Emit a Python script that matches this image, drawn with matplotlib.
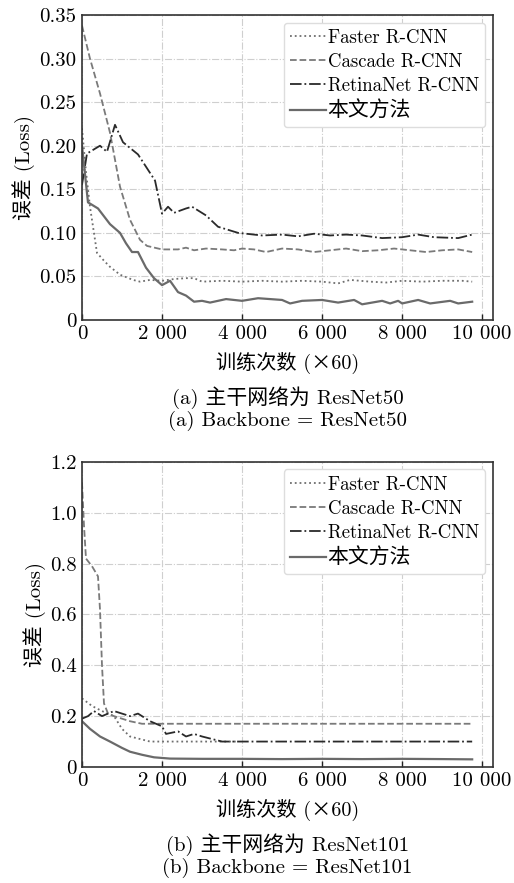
"""Loss curves of four detectors for two backbones (ResNet50 / ResNet101)."""

import matplotlib
matplotlib.use("Agg")
import matplotlib.pyplot as plt
from matplotlib.ticker import FixedLocator, FixedFormatter

plt.rcParams["font.family"] = ["cmr10", "Noto Sans CJK SC"]
plt.rcParams["mathtext.fontset"] = "cm"
plt.rcParams["axes.unicode_minus"] = False

SERIES = ["Faster R-CNN", "Cascade R-CNN", "RetinaNet R-CNN", "本文方法"]

# ---- (a) ResNet50 ----
a_faster_x = [0, 100, 200, 375, 550, 700, 950, 1275, 1450, 1700, 2000, 2300, 2600, 2800, 3000,
              3500, 4000, 4500, 5000, 5500, 6000, 6400, 6700, 7200, 7600, 8000, 8500, 9000, 9500, 9750]
a_faster_y = [0.22, 0.17, 0.13, 0.077, 0.068, 0.061, 0.052, 0.046, 0.044, 0.046, 0.045, 0.047, 0.048, 0.048, 0.044,
              0.045, 0.044, 0.045, 0.044, 0.045, 0.044, 0.042, 0.046, 0.044, 0.043, 0.045, 0.044, 0.045, 0.045, 0.044]

a_cascade_x = [0, 200, 450, 700, 950, 1200, 1450, 1625, 2000, 2400, 2600, 2800, 3100, 3500, 3800, 4000,
               4300, 4600, 5000, 5400, 5800, 6200, 6600, 7000, 7400, 7800, 8200, 8600, 9000, 9400, 9750]
a_cascade_y = [0.338, 0.30, 0.26, 0.215, 0.153, 0.115, 0.092, 0.085, 0.081, 0.081, 0.083, 0.080, 0.082, 0.081, 0.080, 0.082,
               0.081, 0.078, 0.082, 0.081, 0.078, 0.080, 0.082, 0.079, 0.080, 0.082, 0.080, 0.078, 0.080, 0.081, 0.078]

a_retina_x = [0, 125, 450, 625, 825, 1025, 1400, 1825, 2000, 2150, 2300, 2600, 2750, 3100, 3400, 3900,
              4100, 4500, 5000, 5400, 5800, 6200, 6600, 7000, 7500, 8000, 8400, 8800, 9400, 9750]
a_retina_y = [0.155, 0.191, 0.200, 0.193, 0.224, 0.204, 0.190, 0.160, 0.122, 0.130, 0.123, 0.128, 0.130, 0.120, 0.107, 0.100,
              0.099, 0.097, 0.098, 0.096, 0.099, 0.097, 0.098, 0.097, 0.094, 0.095, 0.098, 0.095, 0.094, 0.098]

a_ours_x = [0, 150, 400, 700, 950, 1100, 1250, 1400, 1600, 1800, 2000, 2200, 2400, 2600, 2800, 3000,
            3200, 3600, 4000, 4400, 5000, 5200, 5500, 6000, 6400, 6800, 7000, 7500, 7700, 7900, 8000,
            8400, 8700, 9200, 9400, 9750]
a_ours_y = [0.200, 0.135, 0.128, 0.110, 0.100, 0.088, 0.078, 0.078, 0.060, 0.048, 0.040, 0.045, 0.032, 0.028, 0.021, 0.022,
            0.020, 0.024, 0.022, 0.025, 0.023, 0.019, 0.022, 0.023, 0.020, 0.023, 0.018, 0.022, 0.019, 0.022, 0.019,
            0.023, 0.019, 0.022, 0.019, 0.021]

# ---- (b) ResNet101 ----
b_faster_x = [0, 250, 500, 800, 1000, 1200, 1450, 1700, 2000, 2500, 3000, 3500, 3900]
b_faster_y = [0.27, 0.24, 0.22, 0.20, 0.15, 0.12, 0.11, 0.10, 0.10, 0.10, 0.10, 0.10, 0.10]

b_cascade_x = [0, 50, 100, 250, 400, 450, 500, 550, 650, 800, 1200, 1500, 2000, 3000, 4000, 5000,
               6000, 7000, 8000, 9000, 9750]
b_cascade_y = [1.12, 0.95, 0.82, 0.79, 0.75, 0.62, 0.40, 0.25, 0.21, 0.20, 0.18, 0.17, 0.17, 0.17, 0.17, 0.17,
               0.17, 0.17, 0.17, 0.17, 0.17]

b_retina_x = [0, 150, 300, 500, 800, 1000, 1200, 1400, 1700, 2000, 2100, 2400, 2600, 2800, 3000, 3500,
              4000, 5000, 6000, 7000, 8000, 9000, 9750]
b_retina_y = [0.19, 0.20, 0.22, 0.20, 0.22, 0.21, 0.20, 0.21, 0.18, 0.16, 0.13, 0.14, 0.12, 0.13, 0.12, 0.10,
              0.10, 0.10, 0.10, 0.10, 0.10, 0.10, 0.10]

b_ours_x = [0, 200, 450, 700, 1000, 1200, 1500, 1800, 2200, 3000, 4000, 5000, 6000, 7000, 8000, 9000, 9750]
b_ours_y = [0.18, 0.15, 0.12, 0.10, 0.075, 0.06, 0.048, 0.038, 0.033, 0.032, 0.032, 0.031, 0.032, 0.031, 0.032,
            0.031, 0.030]

x_ticks = [0, 2000, 4000, 6000, 8000, 10000]
x_labels = ["0", "2 000", "4 000", "6 000", "8 000", "10 000"]
a_y_ticks = [0, 0.05, 0.10, 0.15, 0.20, 0.25, 0.30, 0.35]
a_y_labels = ["0", "0.05", "0.10", "0.15", "0.20", "0.25", "0.30", "0.35"]
b_y_ticks = [0, 0.2, 0.4, 0.6, 0.8, 1.0, 1.2]
b_y_labels = ["0", "0.2", "0.4", "0.6", "0.8", "1.0", "1.2"]

STYLES = [
    dict(color="#6e6e6e", linestyle=":", linewidth=1.3),
    dict(color="#7a7a7a", linestyle="--", linewidth=1.3),
    dict(color="#2a2a2a", linestyle="-.", linewidth=1.3),
    dict(color="#6a6a6a", linestyle="-", linewidth=1.6),
]


def draw_panel(ax, data, y_ticks, y_labels, ymax, caption1, caption2):
    for (xs, ys), name, st in zip(data, SERIES, STYLES):
        ax.plot(xs, ys, label=name, **st)

    ax.set_xlim(0, 10270)
    ax.set_ylim(0, ymax)
    ax.xaxis.set_major_locator(FixedLocator(x_ticks))
    ax.xaxis.set_major_formatter(FixedFormatter(x_labels))
    ax.yaxis.set_major_locator(FixedLocator(y_ticks))
    ax.yaxis.set_major_formatter(FixedFormatter(y_labels))
    ax.tick_params(direction="in", length=4, width=1.0, labelsize=15, pad=4, color="#222222")
    ax.tick_params(axis="y", length=0)
    ax.grid(True, color="#cfcfcf", linestyle="-.", linewidth=0.8)
    for sp in ax.spines.values():
        sp.set_color("#333333")
        sp.set_linewidth(1.2)

    ax.set_ylabel("误差 (Loss)", fontsize=15, labelpad=3)
    ax.set_xlabel("训练次数 (×60)", fontsize=14.5, labelpad=6)

    leg = ax.legend(loc="upper right", fontsize=13.5, handlelength=1.9, handletextpad=0.1,
                    borderaxespad=0.4, borderpad=0.35, labelspacing=0.32, fancybox=True,
                    edgecolor="#dddddd", framealpha=1.0)
    leg.get_texts()[3].set_fontsize(15)

    ax.text(0.5, -0.255, caption1, transform=ax.transAxes, ha="center", va="center", fontsize=15)
    ax.text(0.5, -0.33, caption2, transform=ax.transAxes, ha="center", va="center", fontsize=15)


fig = plt.figure(figsize=(5.14, 8.83), dpi=100)
ax1 = fig.add_axes([0.1595, 0.6376, 0.7996, 0.3454])
ax2 = fig.add_axes([0.1595, 0.1314, 0.7996, 0.3454])

draw_panel(ax1,
           [(a_faster_x, a_faster_y), (a_cascade_x, a_cascade_y),
            (a_retina_x, a_retina_y), (a_ours_x, a_ours_y)],
           a_y_ticks, a_y_labels, 0.35,
           "(a) 主干网络为 ResNet50", "(a) Backbone = ResNet50")
draw_panel(ax2,
           [(b_faster_x, b_faster_y), (b_cascade_x, b_cascade_y),
            (b_retina_x, b_retina_y), (b_ours_x, b_ours_y)],
           b_y_ticks, b_y_labels, 1.2,
           "(b) 主干网络为 ResNet101", "(b) Backbone = ResNet101")

fig.savefig("out.png", dpi=100)
